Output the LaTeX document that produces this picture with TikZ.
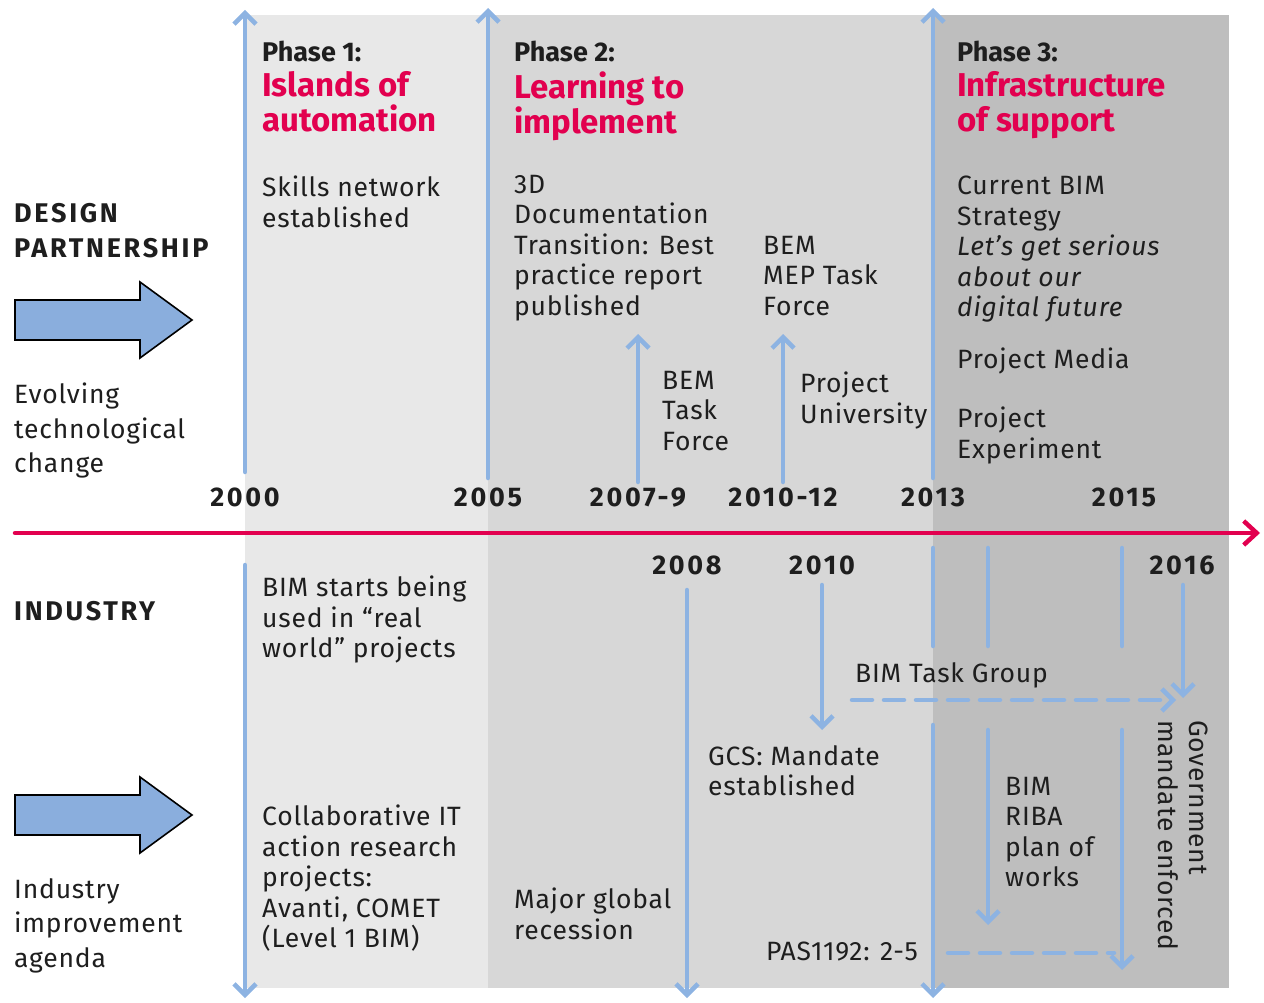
\documentclass[tikz,border=0pt]{standalone}
\usepackage{fontspec}
\setmainfont{Fira Sans}
\usetikzlibrary{arrows.meta,positioning}
\definecolor{phaseone}{HTML}{E8E8E8}
\definecolor{phasetwo}{HTML}{D7D7D7}
\definecolor{phasethree}{HTML}{BEBEBE}
\definecolor{timeblue}{HTML}{8DB3E2}
\definecolor{arrowblue}{HTML}{8AAEDD}
\definecolor{timered}{HTML}{E2004F}
\definecolor{inkgray}{HTML}{1E1E1E}
\tikzset{
  note/.style={
    anchor=north west,
    inner sep=0pt,
    align=left,
    text=inkgray,
    font=\fontsize{26.5}{30.5}\selectfont\addfontfeatures{LetterSpace=3}
  },
  sidenote/.style={
    note,
    font=\fontsize{26.5}{34.5}\selectfont\addfontfeatures{LetterSpace=3}
  },
  heading/.style={
    note,
    font=\bfseries\fontsize{27}{35}\selectfont\addfontfeatures{LetterSpace=10}
  },
  phaselabel/.style={
    note,
    font=\bfseries\fontsize{27}{30}\selectfont
  },
  phasetitle/.style={
    note,
    text=timered,
    font=\bfseries\fontsize{33}{35}\selectfont
  },
  year/.style={
    anchor=base,
    inner sep=0pt,
    text=inkgray,
    font=\bfseries\fontsize{27}{30}\selectfont\addfontfeatures{LetterSpace=10}
  },
  vline/.style={
    draw=timeblue,
    line width=4.5pt,
    line cap=round
  },
  varrow/.style={
    vline,
    -{Straight Barb[length=11pt,width=22pt]}
  },
  dashline/.style={
    vline,
    dash pattern=on 20pt off 12pt
  },
  bigarrow/.style={
    draw=black,
    fill=arrowblue,
    line width=1.6pt,
    line join=miter
  }
}

\begin{document}
\begin{tikzpicture}[x=1pt,y=-1pt]
\useasboundingbox (0,0) rectangle (1264,1003);
% phase bands
\fill[phaseone] (245,15) rectangle (488,988);
\fill[phasetwo] (488,15) rectangle (933,988);
\fill[phasethree] (933,15) rectangle (1229,988);

% timeline
\coordinate (tstart) at (15,533);
\coordinate (tend) at (1260,533);
\draw[timered, line width=4.5pt, line cap=round,
  -{Straight Barb[length=13pt,width=24pt]}] (tstart) -- (tend);

% upward arrows (design partnership)
\foreach \n/\x/\ya/\yb in {a/245/472/10, b/488/478/8, c/933/478/8, d/638/482/334, e/783/482/334} {
  \coordinate (up\n s) at (\x,\ya);
  \coordinate (up\n e) at (\x,\yb);
  \draw[varrow] (up\n s) -- (up\n e);
}

% downward arrows (industry)
\foreach \n/\x/\ya/\yb in {a/245/565/998, b/687/590/998, c/822/585/730, d/933/725/998, e/988/730/925, f/1122/730/970, g/1183/585/698} {
  \coordinate (dn\n s) at (\x,\ya);
  \coordinate (dn\n e) at (\x,\yb);
  \draw[varrow] (dn\n s) -- (dn\n e);
}
\foreach \n/\x in {a/933, b/988, c/1122} {
  \coordinate (tk\n s) at (\x,548);
  \coordinate (tk\n e) at (\x,646);
  \draw[vline] (tk\n s) -- (tk\n e);
}

% dashed connectors
\coordinate (tgs) at (852,700);
\coordinate (tge) at (1176,700);
\draw[dashline, -{Straight Barb[length=11pt,width=22pt]}] (tgs) -- (tge);
\coordinate (pass) at (948,953);
\coordinate (pase) at (1114,953);
\draw[dashline] (pass) -- (pase);

% big arrows
\foreach \yc in {320,815} {
  \draw[bigarrow] (15,\yc-20) -- (140,\yc-20) -- (140,\yc-38) -- (192,\yc)
    -- (140,\yc+38) -- (140,\yc+20) -- (15,\yc+20) -- cycle;
}

% years
\node[year] (y2000) at (245,506) {2000};
\node[year] (y2005) at (488,506) {2005};
\node[year] (y2007) at (638,506) {2007-9};
\node[year] (y2010r) at (783,506) {2010-12};
\node[year] (y2013) at (933,506) {2013};
\node[year] (y2015) at (1124,506) {2015};
\node[year] (y2008) at (687,574) {2008};
\node[year] (y2010) at (822,574) {2010};
\node[year] (y2016) at (1182,574) {2016};

% left labels
\node[heading] (design) at (14,203) {DESIGN\\PARTNERSHIP};
\node[sidenote] (evolving) at (14,383) {Evolving\\technological\\change};
\node[heading] (industry) at (14,601) {INDUSTRY};
\node[sidenote] (agenda) at (14,878) {Industry\\improvement\\agenda};

% phase 1
\node[phaselabel] (ph1) at (262,41) {Phase 1:};
\node[phasetitle, below=9pt of ph1.south west, anchor=north west] (ph1title) {Islands of\\automation};
\node[note] (skills) at (262,176) {Skills network\\established};
\node[note] (bimstarts) at (262,576) {BIM starts being\\used in “real\\world” projects};
\node[note] (collab) at (262,805) {Collaborative IT\\action research\\projects:\\Avanti, COMET\\(Level 1 BIM)};

% phase 2
\node[phaselabel] (ph2) at (514,41) {Phase 2:};
\node[phasetitle, below=9pt of ph2.south west, anchor=north west] (ph2title) {Learning to\\implement};
\node[note] (docs) at (514,175) {3D\\Documentation\\Transition: Best\\practice report\\published};
\node[note] (bemmep) at (763,236) {BEM\\MEP Task\\Force};
\node[note] (bemtask) at (662,371) {BEM\\Task\\Force};
\node[note] (projuni) at (800,372) {Project\\University};
\node[note] (recession) at (514,888) {Major global\\recession};
\node[note] (gcs) at (708,745) {GCS: Mandate\\established};
\node[note] (taskgroup) at (855,662) {BIM Task Group};
\node[note, anchor=north east] (pas) at (918,942) {PAS1192: 2-5};

% phase 3
\node[phaselabel] (ph3) at (957,41) {Phase 3:};
\node[phasetitle, below=9pt of ph3.south west, anchor=north west] (ph3title) {Infrastructure\\of support};
\node[note] (strategy) at (957,176) {Current BIM\\Strategy\\\textit{Let’s get serious}\\\textit{about our}\\\textit{digital future}};
\node[note] (media) at (957,348) {Project Media};
\node[note] (experiment) at (957,407) {Project\\Experiment};
\node[note] (riba) at (1005,777) {BIM\\RIBA\\plan of\\works};
\node[note, rotate=-90] (mandate) at (1208,720) {Government\\mandate enforced};
\end{tikzpicture}
\end{document}
